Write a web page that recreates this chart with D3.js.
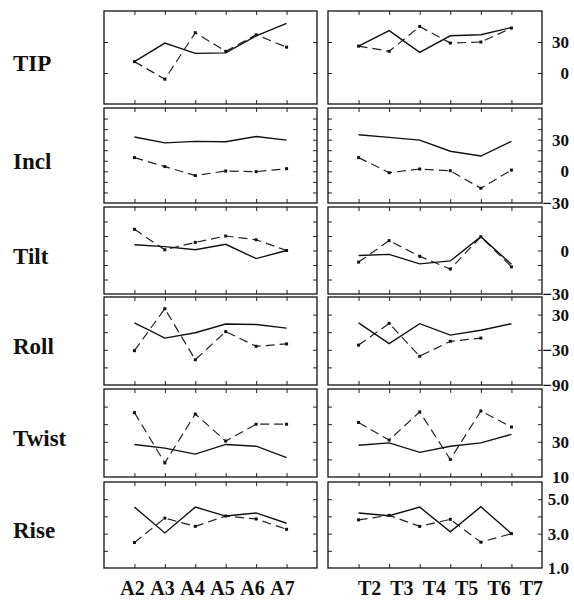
<!DOCTYPE html>
<html>
<head>
<meta charset="utf-8">
<script src="https://cdn.jsdelivr.net/npm/d3@7"></script>
<style>
  html, body { margin: 0; padding: 0; background: #fff; }
  svg { display: block; }
  text { font-family: "Liberation Serif", "Times New Roman", serif; font-weight: bold; fill: #111; }
</style>
</head>
<body>
<svg id="chart" width="574" height="600"></svg>
<script>
// Step categories for the two strands
const catsA = ["A2", "A3", "A4", "A5", "A6", "A7"];
const catsT = ["T2", "T3", "T4", "T5", "T6", "T7"];

// Parameter names, one per row
const rowNames = ["TIP", "Incl", "Tilt", "Roll", "Twist", "Rise"];

// Values per parameter: solid and dashed series, A strand and T strand
const tipASolid = [11, 29, 19, 19.5, 36, 48];
const tipADash = [11, -6, 39, 21, 37, 25];
const tipTSolid = [26, 41, 20, 36, 37, 44];
const tipTDash = [26, 21, 45, 29, 30, 43.5];

const inclASolid = [32.5, 27, 28.4, 28, 33, 29.6];
const inclADash = [13, 4.5, -4, 0.3, -0.3, 2.5];
const inclTSolid = [34.7, 32.2, 29.6, 19, 14.5, 28.4];
const inclTDash = [13, -1.3, 2.2, 0.6, -16, 1.2];

const tiltASolid = [4, 2.7, 0.5, 4.3, -5.6, 0];
const tiltADash = [14.6, 0.5, 5.6, 10, 7.4, 0];
const tiltTSolid = [-3.4, -2.7, -9.2, -7.2, 9.5, -9.5];
const tiltTDash = [-8, 6.8, -4, -12.8, 9.5, -11.3];

const rollASolid = [16, -10, -1, 14, 13, 7];
const rollADash = [-31.5, 40, -47, 1, -24, -20];
const rollTSolid = [16, -19.5, 14.5, -5, 3.4, 14.5];
const rollTDash = [-22, 15, -41, -15.5, -10, null];

const twistASolid = [28.5, 26.4, 23, 28.5, 27.5, 21];
const twistADash = [46.6, 18, 45.8, 30.4, 40, 40];
const twistTSolid = [28, 29.4, 24, 27.5, 29.4, 34.2];
const twistTDash = [41, 31, 47, 20, 47.5, 38.4];

const riseASolid = [4.54, 3.04, 4.54, 4.02, 4.2, 3.6];
const riseADash = [2.48, 3.9, 3.42, 4.02, 3.85, 3.25];
const riseTSolid = [4.2, 4.04, 4.54, 3.1, 4.56, 3.0];
const riseTDash = [3.8, 4.06, 3.42, 3.83, 2.5, 3.0];

// Axis ranges, inner tick values and right-hand tick labels per row
const yDomains = [[-30, 60], [-30, 60], [-30, 30], [-90, 60], [10, 60], [1, 6]];
const yTicks = [[0, 30], [-20, -10, 0, 10, 20, 30, 40, 50], [-20, -10, 0, 10, 20], [-60, -30, 0, 30], [20, 30, 40, 50], [2, 3, 4, 5]];
const yLabels = [[30, 0], [30, 0, -30], [0, -30], [30, -30, -90], [30, 10], [5, 3, 1]];
const yLabelFormats = ["d", "d", "d", "d", "d", ".1f"];

const seriesByRow = [
  [tipASolid, tipADash, tipTSolid, tipTDash],
  [inclASolid, inclADash, inclTSolid, inclTDash],
  [tiltASolid, tiltADash, tiltTSolid, tiltTDash],
  [rollASolid, rollADash, rollTSolid, rollTDash],
  [twistASolid, twistADash, twistTSolid, twistTDash],
  [riseASolid, riseADash, riseTSolid, riseTDash]
];

// Layout
const rowBands = [[11, 104], [108, 203], [207, 294], [297, 385], [389, 477], [482, 568]];
const colBands = [[104, 317], [328, 542]];
const tickLen = 4;

const svg = d3.select("#chart");

const xA = d3.scalePoint().domain(catsA).range(colBands[0]).padding(1);
const xT = d3.scalePoint().domain(catsT).range(colBands[1]).padding(1);
const xScales = [xA, xT];

function drawPanel(g, x, y, ticks, a, b) {
  const [x0, x1] = x.range();
  const [y0, y1] = [y.range()[1], y.range()[0]];
  const axes = [
    [d3.axisLeft(y).tickValues(ticks).tickSize(-tickLen), `translate(${x0},0)`],
    [d3.axisRight(y).tickValues(ticks).tickSize(-tickLen), `translate(${x1},0)`],
    [d3.axisTop(x).tickSize(-tickLen), `translate(0,${y0})`],
    [d3.axisBottom(x).tickSize(-tickLen), `translate(0,${y1})`]
  ];
  axes.forEach(([ax, tr]) => {
    const ag = g.append("g").attr("transform", tr).call(ax.tickFormat(""));
    ag.select(".domain").remove();
    ag.selectAll("line").attr("stroke", "#222").attr("stroke-width", 1);
  });

  const line = d3.line()
    .defined(d => d.v != null)
    .x(d => x(d.c))
    .y(d => y(d.v));
  const cats = x.domain();
  const solid = a.map((v, i) => ({ c: cats[i], v }));
  const dash = b.map((v, i) => ({ c: cats[i], v }));

  g.append("path").datum(dash).attr("d", line)
    .attr("fill", "none").attr("stroke", "#222").attr("stroke-width", 1.2)
    .attr("stroke-dasharray", "9,5");
  g.append("path").datum(solid).attr("d", line)
    .attr("fill", "none").attr("stroke", "#111").attr("stroke-width", 1.4);

  g.selectAll("rect.pt").data(dash.filter(d => d.v != null)).join("rect")
    .attr("class", "pt")
    .attr("x", d => x(d.c) - 1.5).attr("y", d => y(d.v) - 1.5)
    .attr("width", 3).attr("height", 3).attr("fill", "#111");

  g.append("rect")
    .attr("x", x0).attr("y", y0)
    .attr("width", x1 - x0).attr("height", y1 - y0)
    .attr("fill", "none").attr("stroke", "#111").attr("stroke-width", 1.3);
}

rowNames.forEach((name, r) => {
  const [top, bottom] = rowBands[r];
  const y = d3.scaleLinear().domain(yDomains[r]).range([bottom, top]);
  const rowG = svg.append("g");

  xScales.forEach((x, c) => {
    const s = seriesByRow[r];
    drawPanel(rowG.append("g"), x, y, yTicks[r], s[c * 2], s[c * 2 + 1]);
  });

  // Parameter name at the left
  rowG.append("text")
    .attr("x", 13).attr("y", (top + bottom) / 2 + 13)
    .attr("font-size", 23)
    .text(name);

  // Value labels at the right
  const fmt = d3.format(yLabelFormats[r]);
  rowG.selectAll("text.ylab").data(yLabels[r]).join("text")
    .attr("class", "ylab")
    .attr("x", 569).attr("y", d => y(d))
    .attr("dy", "0.36em")
    .attr("text-anchor", "end")
    .attr("font-size", 17)
    .text(d => fmt(d));
});

// Step labels below the bottom row: per-column shift (base, per-step)
const labelShift = [[-2, -0.4], [11, 1.8]];
xScales.forEach((x, c) => {
  const [base, step] = labelShift[c];
  svg.append("g").selectAll("text").data(x.domain()).join("text")
    .attr("x", (d, i) => x(d) + base + step * i)
    .attr("y", 595)
    .attr("text-anchor", "middle")
    .attr("font-size", 20)
    .text(d => d);
});
</script>
</body>
</html>
